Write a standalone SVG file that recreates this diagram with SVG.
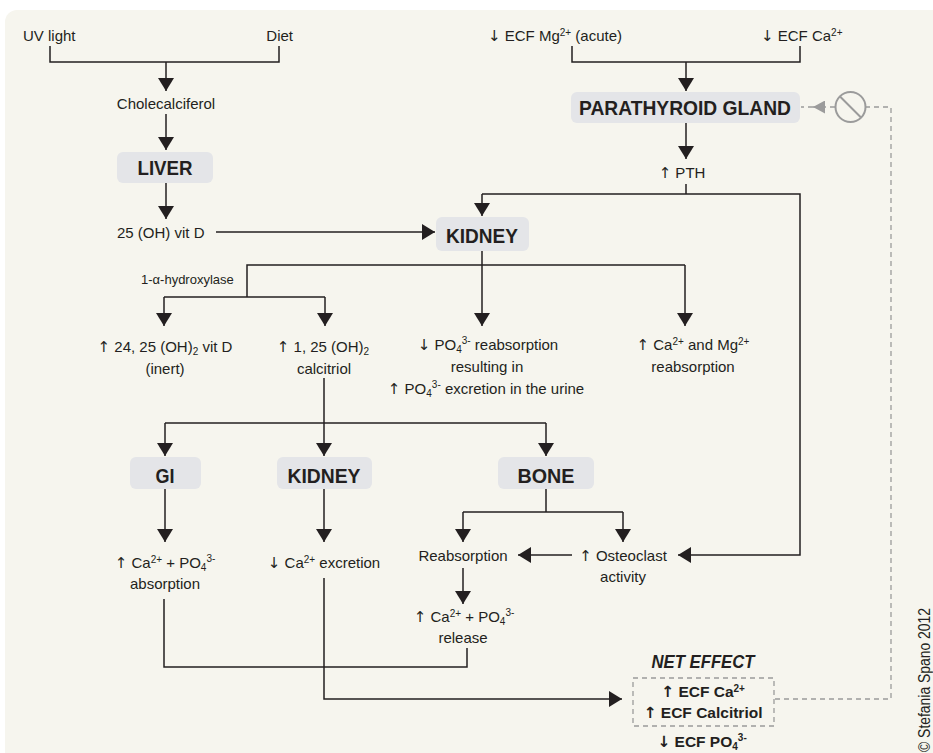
<svg xmlns="http://www.w3.org/2000/svg" width="933" height="753" viewBox="0 0 933 753">
<defs>
<style>
.t{font-family:"Liberation Sans","DejaVu Sans",Arial,sans-serif;font-size:15px;fill:#231f20}
.a{font-family:"DejaVu Sans",sans-serif;font-weight:normal}
.s{font-size:13px}
.b{font-weight:bold;font-size:21px}
.nb{font-weight:bold;font-size:15.5px}
.m{text-anchor:middle}
.e{text-anchor:end}
.sup{font-size:10px}
.ln{fill:none;stroke:#231f20;stroke-width:1.5}
.ar{marker-end:url(#ah)}
.box{fill:#e4e5e8}
.dash{fill:none;stroke:#9b9b9b;stroke-width:1.3;stroke-dasharray:5 4}
</style>
<marker id="ah" viewBox="0 0 13 16" refX="13" refY="8" markerWidth="13" markerHeight="16" markerUnits="userSpaceOnUse" orient="auto"><path d="M0,0L13,8L0,16z" fill="#231f20"/></marker>
<marker id="ag" viewBox="0 0 12 13" refX="12" refY="6.5" markerWidth="12" markerHeight="13" markerUnits="userSpaceOnUse" orient="auto"><path d="M0,0L12,6.5L0,13z" fill="#9b9b9b"/></marker>
</defs>
<rect x="0" y="0" width="933" height="753" fill="#ffffff"/>
<rect x="5" y="10" width="940" height="760" rx="12" fill="#f6f5ee"/>

<g id="connectors">
<path class="ln" d="M50,46V62H279V46"/>
<path class="ln ar" d="M166,62V91"/>
<path class="ln ar" d="M166,114V150"/>
<path class="ln ar" d="M166,183V219"/>
<path class="ln ar" d="M216,232H435"/>
<path class="ln" d="M572,46V62H800V46"/>
<path class="ln ar" d="M686,62V91"/>
<path class="ln ar" d="M686,123V159"/>
<path class="ln" d="M686,184V194"/>
<path class="ln ar" d="M482,194H800V555H678"/>
<path class="ln ar" d="M482,194V216"/>
<path class="ln ar" d="M482,251V326"/>
<path class="ln" d="M247,297V265H685"/>
<path class="ln ar" d="M685,265V326"/>
<path class="ln" d="M164,297H325"/>
<path class="ln ar" d="M164,297V326"/>
<path class="ln ar" d="M325,297V326"/>
<path class="ln" d="M324,378V423"/>
<path class="ln" d="M165,423H546"/>
<path class="ln ar" d="M165,423V456"/>
<path class="ln ar" d="M324,423V456"/>
<path class="ln ar" d="M546,423V456"/>
<path class="ln ar" d="M165,489V542"/>
<path class="ln ar" d="M324,489V542"/>
<path class="ln" d="M546,489V512"/>
<path class="ln" d="M463,512H623"/>
<path class="ln ar" d="M463,512V542"/>
<path class="ln ar" d="M623,512V542"/>
<path class="ln ar" d="M572,555H518"/>
<path class="ln ar" d="M463,568V604"/>
<path class="ln" d="M164,599V667H467V648"/>
<path class="ln ar" d="M324,578V699H622"/>
<path class="dash" d="M775,699H891V107H866"/>
<path class="dash" d="M835,107H813" marker-end="url(#ag)"/>
<path class="dash" d="M813,107H801"/>
<circle cx="850.5" cy="107" r="15" fill="none" stroke="#9b9b9b" stroke-width="2"/>
<path d="M840,96.5L861,117.5" stroke="#9b9b9b" stroke-width="2"/>
</g>

<g id="uv"><text class="t" x="23" y="41">UV light</text></g>
<g id="diet"><text class="t e" x="293" y="41">Diet</text></g>
<g id="chole"><text class="t m" x="166" y="109">Cholecalciferol</text></g>
<g id="liver"><rect class="box" x="117" y="152" width="96" height="31" rx="6"/><text class="t b m" x="165" y="175" textLength="55" lengthAdjust="spacingAndGlyphs">LIVER</text></g>
<g id="vitd25"><text class="t" x="117" y="238">25 (OH) vit D</text></g>
<g id="mg"><text class="t" x="488" y="41"><tspan class="a">↓</tspan> ECF Mg<tspan class="sup" dy="-5">2+</tspan><tspan dy="5"> (acute)</tspan></text></g>
<g id="ca"><text class="t" x="761" y="41"><tspan class="a">↓</tspan> ECF Ca<tspan class="sup" dy="-5">2+</tspan></text></g>
<g id="ptg"><rect class="box" x="571" y="92" width="229" height="31" rx="6"/><text class="t b m" x="685" y="115" textLength="212" lengthAdjust="spacingAndGlyphs">PARATHYROID GLAND</text></g>
<g id="pth"><text class="t m" x="682" y="178"><tspan class="a">↑</tspan> PTH</text></g>
<g id="kidney1"><rect class="box" x="436" y="217" width="93" height="34" rx="6"/><text class="t b m" x="482" y="243" textLength="72" lengthAdjust="spacingAndGlyphs">KIDNEY</text></g>
<g id="hydrox"><text class="t s" x="141" y="284">1-α-hydroxylase</text></g>
<g id="vitd2425"><text class="t m" x="165" y="352"><tspan class="a">↑</tspan> 24, 25 (OH)<tspan class="sup" dy="3">2</tspan><tspan dy="-3"> vit D</tspan></text><text class="t m" x="165" y="374">(inert)</text></g>
<g id="calcitriol"><text class="t m" x="323" y="352"><tspan class="a">↑</tspan> 1, 25 (OH)<tspan class="sup" dy="3">2</tspan></text><text class="t m" x="324" y="374">calcitriol</text></g>
<g id="po4"><text class="t m" x="488" y="350"><tspan class="a">↓</tspan> PO<tspan class="sup" dy="3">4</tspan><tspan class="sup" dy="-9">3-</tspan><tspan dy="6"> reabsorption</tspan></text><text class="t m" x="487" y="372">resulting in</text><text class="t m" x="486" y="394"><tspan class="a">↑</tspan> PO<tspan class="sup" dy="3">4</tspan><tspan class="sup" dy="-9">3-</tspan><tspan dy="6"> excretion in the urine</tspan></text></g>
<g id="camg"><text class="t m" x="693" y="350"><tspan class="a">↑</tspan> Ca<tspan class="sup" dy="-5">2+</tspan><tspan dy="5"> and Mg</tspan><tspan class="sup" dy="-5">2+</tspan></text><text class="t m" x="693" y="372">reabsorption</text></g>
<g id="gi"><rect class="box" x="130" y="457" width="71" height="32" rx="6"/><text class="t b m" x="165" y="483" textLength="19" lengthAdjust="spacingAndGlyphs">GI</text></g>
<g id="kidney2"><rect class="box" x="277" y="457" width="95" height="32" rx="6"/><text class="t b m" x="324" y="483" textLength="73" lengthAdjust="spacingAndGlyphs">KIDNEY</text></g>
<g id="bone"><rect class="box" x="498" y="457" width="96" height="32" rx="6"/><text class="t b m" x="546" y="483" textLength="57" lengthAdjust="spacingAndGlyphs">BONE</text></g>
<g id="absorption"><text class="t m" x="165" y="568"><tspan class="a">↑</tspan> Ca<tspan class="sup" dy="-5">2+</tspan><tspan dy="5"> + PO</tspan><tspan class="sup" dy="3">4</tspan><tspan class="sup" dy="-9">3-</tspan></text><text class="t m" x="165" y="589">absorption</text></g>
<g id="excretion"><text class="t m" x="324" y="568"><tspan class="a">↓</tspan> Ca<tspan class="sup" dy="-5">2+</tspan><tspan dy="5"> excretion</tspan></text></g>
<g id="reabs"><text class="t m" x="463" y="561">Reabsorption</text></g>
<g id="osteo"><text class="t m" x="623" y="561"><tspan class="a">↑</tspan> Osteoclast</text><text class="t m" x="623" y="582">activity</text></g>
<g id="release"><text class="t m" x="464" y="622"><tspan class="a">↑</tspan> Ca<tspan class="sup" dy="-5">2+</tspan><tspan dy="5"> + PO</tspan><tspan class="sup" dy="3">4</tspan><tspan class="sup" dy="-9">3-</tspan></text><text class="t m" x="463" y="643">release</text></g>
<g id="net">
<text class="t m" x="703" y="668" style="font-weight:bold;font-style:italic;font-size:18px" textLength="103" lengthAdjust="spacingAndGlyphs">NET EFFECT</text>
<rect x="633" y="678" width="141" height="48" fill="none" stroke="#9b9b9b" stroke-width="1.3" stroke-dasharray="5 4"/>
<text class="t nb m" x="703" y="697"><tspan class="a" style="font-weight:bold">↑</tspan> ECF Ca<tspan class="sup" dy="-5">2+</tspan></text>
<text class="t nb m" x="703" y="718"><tspan class="a" style="font-weight:bold">↑</tspan> ECF Calcitriol</text>
<text class="t nb m" x="702" y="747"><tspan class="a" style="font-weight:bold">↓</tspan> ECF PO<tspan class="sup" dy="3">4</tspan><tspan class="sup" dy="-9">3-</tspan></text>
</g>
<text class="t" transform="translate(930,752) rotate(-90)" style="font-size:16px" textLength="144" lengthAdjust="spacingAndGlyphs">© Stefania Spano 2012</text>
</svg>
